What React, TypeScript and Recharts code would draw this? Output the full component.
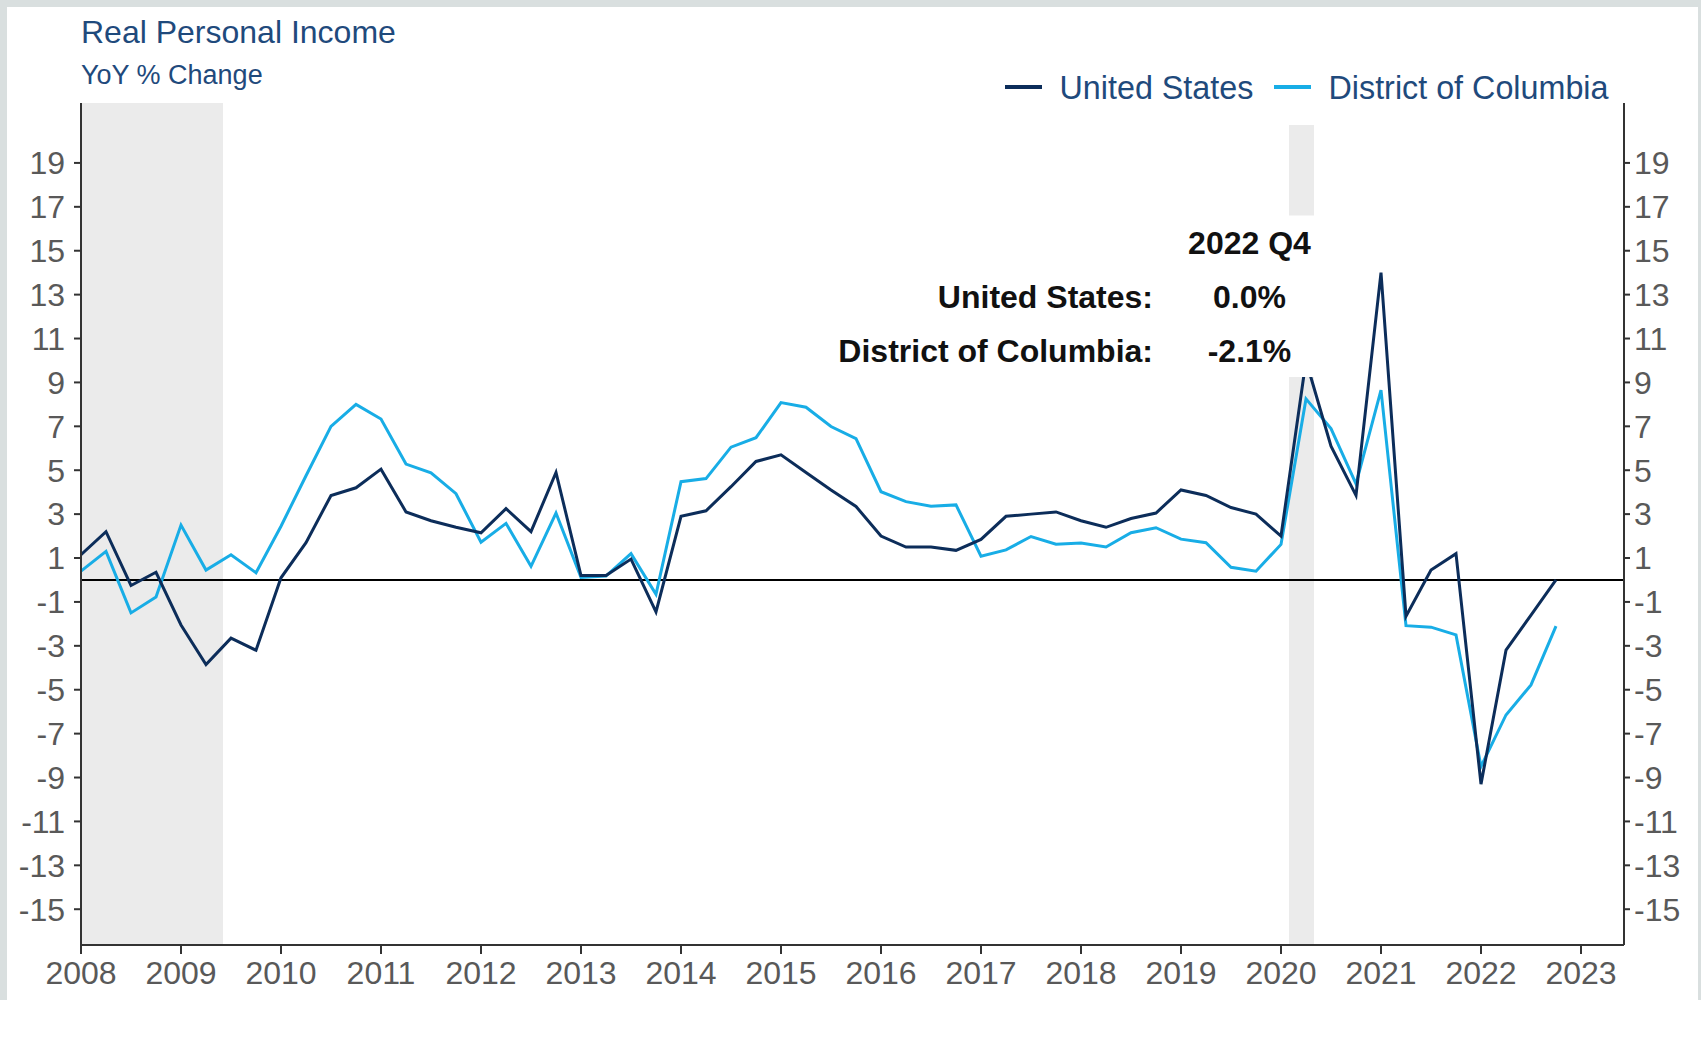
import React from 'react';
import { LineChart, Line, XAxis, YAxis, ReferenceLine, ReferenceArea } from 'recharts';

const years = [2008, 2009, 2010, 2011, 2012, 2013, 2014, 2015, 2016, 2017, 2018, 2019, 2020, 2021, 2022];
const quarterNames = ['Q1', 'Q2', 'Q3', 'Q4'];
const quarters = years.flatMap((y) => quarterNames.map((q) => `${y} ${q}`));

const unitedStates = [
  1.15, 2.2, -0.25, 0.35,
  -2.05, -3.85, -2.65, -3.2,
  0.1, 1.7, 3.85, 4.2,
  5.05, 3.1, 2.7, 2.4,
  2.15, 3.25, 2.2, 4.9,
  0.2, 0.2, 0.95, -1.45,
  2.9, 3.15, 4.25, 5.4,
  5.7, 4.9, 4.1, 3.35,
  2.0, 1.5, 1.5, 1.35,
  1.85, 2.9, 3.0, 3.1,
  2.7, 2.4, 2.8, 3.05,
  4.1, 3.85, 3.3, 3.0,
  2.0, 10.0, 6.1, 3.85,
  14.0, -1.65, 0.45, 1.2,
  -9.3, -3.2, -1.6, 0.0,
];

const districtOfColumbia = [
  0.4, 1.3, -1.5, -0.78,
  2.5, 0.45, 1.15, 0.33,
  2.45, 4.75, 7.0, 8.0,
  7.33, 5.28, 4.88, 3.93,
  1.72, 2.58, 0.62, 3.05,
  0.12, 0.18, 1.2, -0.65,
  4.48, 4.62, 6.05, 6.48,
  8.08, 7.87, 6.99, 6.44,
  4.02, 3.57, 3.36, 3.42,
  1.08, 1.37, 1.98, 1.63,
  1.68, 1.5, 2.15, 2.38,
  1.86, 1.7, 0.58, 0.4,
  1.62, 8.25, 6.9, 4.38,
  8.65, -2.08, -2.15, -2.5,
  -8.5, -6.15, -4.78, -2.1,
];

const xTicks = [2008, 2009, 2010, 2011, 2012, 2013, 2014, 2015, 2016, 2017, 2018, 2019, 2020, 2021, 2022, 2023];
const yTicks = [-15, -13, -11, -9, -7, -5, -3, -1, 1, 3, 5, 7, 9, 11, 13, 15, 17, 19];
const xDomain: [number, number] = [2008, 2023.43];
const yDomain: [number, number] = [-16.63, 21.73];

const recessions = [
  { start: 2008, end: 2009.42, top: 21.73 },
  { start: 2020.08, end: 2020.33, top: 20.73 },
];

const annotationBox = { x1: 2015.4, x2: 2020.5, y1: 9.25, y2: 16.6 };

const seriesNames = ['United States', 'District of Columbia'];
const seriesColors = ['#0c2d5a', '#18ade6'];

const data = quarters.map((label, i) => ({
  label,
  t: years[Math.floor(i / 4)] + (i % 4) / 4,
  us: unitedStates[i],
  dc: districtOfColumbia[i],
}));

const FONT = '"Liberation Sans", Arial, Helvetica, sans-serif';
const AXIS_TEXT = '#595959';
const AXIS_LINE = '#333333';
const TITLE_BLUE = '#1f4a7c';

export default function App() {
  const tickStyle = { fill: AXIS_TEXT, fontSize: 32, fontFamily: FONT };
  return (
    <div style={{ position: 'relative', width: 1701, height: 1063, background: '#ffffff', overflow: 'hidden' }}>
      <style>{`body{margin:0;}`}</style>
      <div style={{ position: 'absolute', left: 0, top: 0, width: 1701, height: 1000, background: '#d9dfdf' }} />
      <div style={{ position: 'absolute', left: 7, top: 7, width: 1691, height: 993, background: '#ffffff' }} />
      <div style={{ position: 'absolute', left: 0, top: 0 }}>
        <LineChart width={1701} height={1063} data={data} margin={{ top: 103, right: 0, bottom: 58, left: 11 }}>
          <XAxis
            type="number"
            dataKey="t"
            domain={xDomain}
            ticks={xTicks}
            interval={0}
            allowDataOverflow
            height={60}
            tickSize={9}
            tickMargin={7}
            tick={tickStyle}
            axisLine={{ stroke: AXIS_LINE, strokeWidth: 2 }}
            tickLine={{ stroke: AXIS_LINE, strokeWidth: 2 }}
          />
          <YAxis
            yAxisId="left"
            orientation="left"
            type="number"
            domain={yDomain}
            ticks={yTicks}
            interval={0}
            allowDataOverflow
            width={70}
            tickSize={7}
            tickMargin={9}
            tick={tickStyle}
            axisLine={{ stroke: AXIS_LINE, strokeWidth: 2 }}
            tickLine={{ stroke: AXIS_LINE, strokeWidth: 2 }}
          />
          <YAxis
            yAxisId="right"
            orientation="right"
            type="number"
            domain={yDomain}
            ticks={yTicks}
            interval={0}
            allowDataOverflow
            width={77}
            tickSize={6}
            tickMargin={4}
            tick={tickStyle}
            axisLine={{ stroke: AXIS_LINE, strokeWidth: 2 }}
            tickLine={{ stroke: AXIS_LINE, strokeWidth: 2 }}
          />
          {recessions.map((r, i) => (
            <ReferenceArea
              key={`rec-${i}`}
              yAxisId="left"
              x1={r.start}
              x2={r.end}
              y1={yDomain[0]}
              y2={r.top}
              fill="#ebebeb"
              fillOpacity={1}
              stroke="none"
              ifOverflow="hidden"
            />
          ))}
          <ReferenceLine yAxisId="left" y={0} stroke="#000000" strokeWidth={2} />
          <Line
            yAxisId="left"
            type="linear"
            dataKey="dc"
            name={seriesNames[1]}
            stroke={seriesColors[1]}
            strokeWidth={3}
            dot={false}
            activeDot={false}
            isAnimationActive={false}
          />
          <Line
            yAxisId="left"
            type="linear"
            dataKey="us"
            name={seriesNames[0]}
            stroke={seriesColors[0]}
            strokeWidth={3}
            dot={false}
            activeDot={false}
            isAnimationActive={false}
          />
          <ReferenceArea
            yAxisId="left"
            x1={annotationBox.x1}
            x2={annotationBox.x2}
            y1={annotationBox.y1}
            y2={annotationBox.y2}
            fill="#ffffff"
            fillOpacity={1}
            stroke="none"
            {...({ zIndex: 2000 } as any)}
          />
        </LineChart>
      </div>
      <svg
        width={1701}
        height={1063}
        style={{ position: 'absolute', left: 0, top: 0, pointerEvents: 'none' }}
        fontFamily={FONT}
      >
        <text x={81} y={43} fontSize={32} fill={TITLE_BLUE}>Real Personal Income</text>
        <text x={81} y={83.5} fontSize={27} fill={TITLE_BLUE}>YoY % Change</text>

        <line x1={1005} x2={1042} y1={87} y2={87} stroke={seriesColors[0]} strokeWidth={4} />
        <text x={1059.5} y={99.3} fontSize={32.3} fill={TITLE_BLUE}>{seriesNames[0]}</text>
        <line x1={1274} x2={1311} y1={87} y2={87} stroke={seriesColors[1]} strokeWidth={4} />
        <text x={1328.5} y={99.3} fontSize={32.3} fill={TITLE_BLUE}>{seriesNames[1]}</text>

        <text x={1249.5} y={254} fontSize={32} fontWeight="bold" fill="#111111" textAnchor="middle">
          {quarters[quarters.length - 1]}
        </text>
        <text x={1153} y={308} fontSize={32} fontWeight="bold" fill="#111111" textAnchor="end">
          {`${seriesNames[0]}:`}
        </text>
        <text x={1249.5} y={308} fontSize={32} fontWeight="bold" fill="#111111" textAnchor="middle">
          {`${unitedStates[unitedStates.length - 1].toFixed(1)}%`}
        </text>
        <text x={1153} y={362} fontSize={32} fontWeight="bold" fill="#111111" textAnchor="end">
          {`${seriesNames[1]}:`}
        </text>
        <text x={1249.5} y={362} fontSize={32} fontWeight="bold" fill="#111111" textAnchor="middle">
          {`${districtOfColumbia[districtOfColumbia.length - 1].toFixed(1)}%`}
        </text>
      </svg>
    </div>
  );
}
